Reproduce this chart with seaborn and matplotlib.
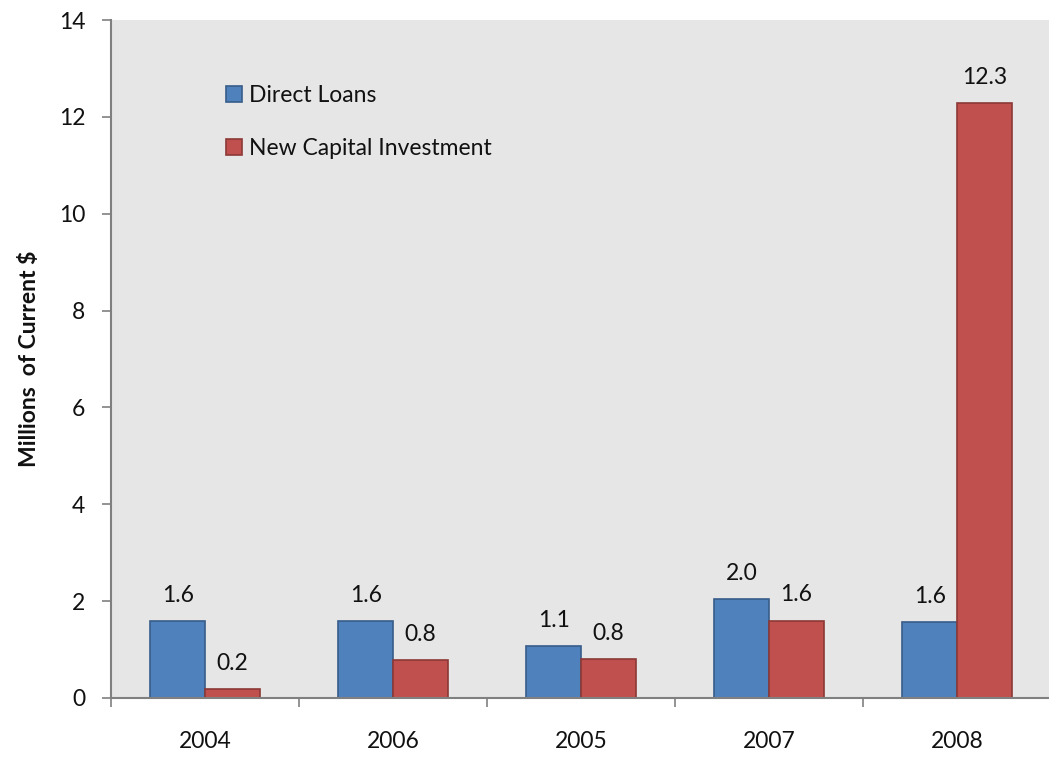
import matplotlib
matplotlib.use("Agg")
import matplotlib.pyplot as plt
import seaborn as sns
import pandas as pd
from matplotlib.ticker import FixedLocator

years = ["2004", "2006", "2005", "2007", "2008"]
direct_loans = [1.59, 1.58, 1.07, 2.04, 1.56]
new_capital = [0.18, 0.78, 0.80, 1.60, 12.28]
series_names = ["Direct Loans", "New Capital Investment"]

df = pd.DataFrame({
    "year": years * 2,
    "value": direct_loans + new_capital,
    "series": [series_names[0]] * len(years) + [series_names[1]] * len(years),
})

sns.set_theme(style="white")
plt.rcParams["font.family"] = ["Lato", "DejaVu Sans"]
FS = 16.5

fig = plt.figure(figsize=(10.49, 7.57), dpi=100)
ax = fig.add_axes([111 / 1049, 59 / 757, 940 / 1049, 678 / 757])
ax.set_facecolor("#E6E6E6")

palette = {series_names[0]: "#4F81BD", series_names[1]: "#C0504D"}
edges = {series_names[0]: "#385D8A", series_names[1]: "#8C3836"}

sns.barplot(data=df, x="year", y="value", hue="series", order=years,
            hue_order=series_names, palette=palette, width=0.58, gap=0,
            saturation=1, ax=ax, legend=True)

for container, name in zip(ax.containers, series_names):
    for patch in container:
        patch.set_edgecolor(edges[name])
        patch.set_linewidth(1.2)
    ax.bar_label(container, labels=[f"{v:.1f}" for v in container.datavalues],
                 padding=11, fontsize=FS, color="#111111")

ax.set_ylim(0, 14)
ax.set_xlim(-0.5, 4.5)
ax.set_yticks(range(0, 15, 2))
ax.tick_params(axis="y", which="major", direction="out", length=6.5, width=1.2,
               color="#808080", labelsize=FS, pad=12, left=True,
               labelcolor="#111111")
ax.tick_params(axis="x", which="major", length=0, labelsize=FS, pad=24,
               labelcolor="#111111")
ax.xaxis.set_minor_locator(FixedLocator([i - 0.5 for i in range(len(years) + 1)]))
ax.tick_params(axis="x", which="minor", direction="out", length=6.5, width=1.2,
               color="#808080", bottom=True)

for side in ["top", "right"]:
    ax.spines[side].set_visible(False)
for side in ["left", "bottom"]:
    ax.spines[side].set_color("#808080")
    ax.spines[side].set_linewidth(1.5)

ax.set_xlabel("")
ax.set_ylabel("Millions  of Current $", fontsize=FS, fontweight="bold",
              labelpad=13.5, color="#111111")

handles, labels = ax.get_legend_handles_labels()
for h, name in zip(handles, series_names):
    h.set_edgecolor(edges[name])
    h.set_linewidth(1.2)
leg = ax.legend(handles, labels, loc="upper left", bbox_to_anchor=(0.122, 0.904),
                frameon=False, fontsize=FS, handlelength=0.7, handleheight=0.7,
                handletextpad=0.3, labelspacing=1.4, borderpad=0, borderaxespad=0)
for t in leg.get_texts():
    t.set_color("#111111")

fig.savefig("out.png", dpi=100)
